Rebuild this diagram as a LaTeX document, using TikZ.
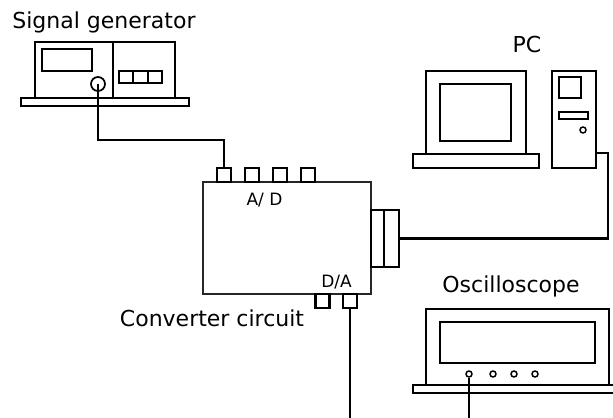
\documentclass[tikz,border=0pt]{standalone}
\usepackage{fontspec}
\setmainfont{DejaVu Sans}
\begin{document}
\begin{tikzpicture}[x=0.75pt,y=-0.75pt,line width=1.9pt,
    title/.style={font=\fontsize{16.5}{20}\selectfont,anchor=base},
    tag/.style={font=\fontsize{12.75}{15}\selectfont,anchor=base},
    port/.style={draw,line width=1.9pt,inner sep=0pt,minimum width=10.5pt,minimum height=10.5pt},
    led/.style={draw,circle,line width=1.1pt,inner sep=0pt,minimum size=4.5pt}]
  \useasboundingbox (0,0) rectangle (613,417);

  % signal generator
  \node[title] (sgtitle) at (104,29) {Signal generator};
  \draw (35,42) rectangle (175,98);
  \draw (113,42) -- (113,98);
  \draw (42,49) rectangle (92,71);
  \draw (119,71) rectangle (162,83);
  \draw (133,71) -- (133,83);
  \draw (148,71) -- (148,83);
  \draw (21,98) rectangle (189,106);
  \node[draw,circle,line width=1.3pt,inner sep=0pt,minimum size=10.5pt] (knob) at (98,84) {};

  % converter circuit
  \node[draw,line width=0.9pt,black!85,inner sep=0pt,minimum width=126pt,minimum height=84pt] (conv) at (287,238) {};
  \node[port] (ad1) at (224,175) {};
  \node[port] (ad2) at (252,175) {};
  \node[port] (ad3) at (280,175) {};
  \node[port] (ad4) at (308,175) {};
  \node[port] (da1) at (322.5,301) {};
  \node[port] (da2) at (350,301) {};
  \node[port,minimum width=9.75pt,minimum height=42.75pt] (usbin) at (377.5,238.5) {};
  \node[port,minimum width=11.25pt,minimum height=42.75pt] (usb) at (391.5,238.5) {};
  \node[tag] (adtag) at (264.5,205) {A/ D};
  \node[tag] (datag) at (336.5,287) {D/A};
  \node[title] (convtitle) at (212,326) {Converter circuit};

  % PC
  \node[title] (pctitle) at (527,53) {PC};
  \draw (426,71) rectangle (526,154);
  \draw (440,84) rectangle (511,141);
  \draw (413,154) rectangle (539,168);
  \draw (552,71) rectangle (596,168);
  \draw (559,77) rectangle (581,98);
  \draw (559,112) rectangle (588,119);
  \node[led] (pwr) at (583,130) {};
  \coordinate (pcport) at (596,153);

  % oscilloscope
  \node[title] (scopetitle) at (511,292) {Oscilloscope};
  \draw (426,309) rectangle (609,385);
  \draw (440,322) rectangle (595,363);
  \draw (413,385) rectangle (616,393);
  \node[led] (ch1) at (469,374) {};
  \node[led] (ch2) at (493,374) {};
  \node[led] (ch3) at (514,374) {};
  \node[led] (ch4) at (535,374) {};

  % cables
  \coordinate (bend) at (98,140);
  \coordinate (daend) at (350,420);
  \coordinate (scopeend) at (469,420);
  \draw (knob.center) -- (bend) -| (ad1.north);
  \draw (pcport) -- ++(12,0) |- (usb.east);
  \draw (da2.south) -- (daend);
  \draw (ch1.south) -- (scopeend);
\end{tikzpicture}
\end{document}
